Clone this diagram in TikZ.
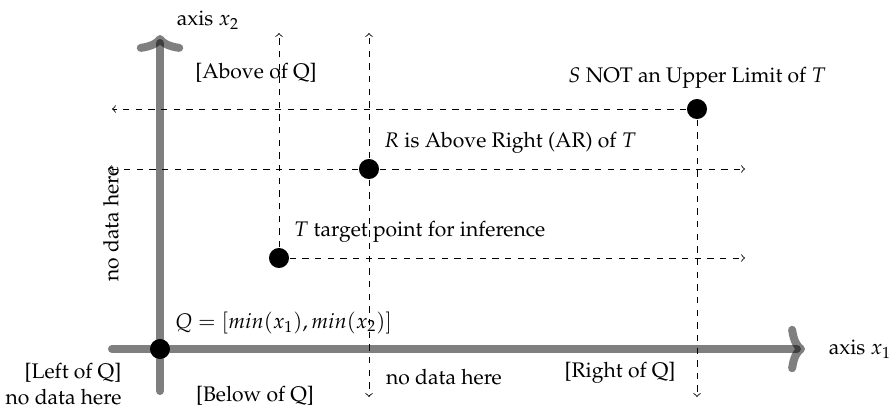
\documentclass[tikz,border=0pt]{standalone}
\usepackage[T1]{fontenc}
\usepackage{mathpazo}
\usepackage{tikz}
\usetikzlibrary{arrows,arrows.meta,positioning}

\begin{document}
\begin{tikzpicture}[x=0.474pt,y=-0.474pt,>=to,semithick]
  \tikzstyle{axisline}=[-{Computer Modern Rightarrow[length=8pt,width=22pt]},line width=3.8pt,draw=black,draw opacity=0.5,line cap=round]
  \tikzstyle{dot}=[circle,fill=black,inner sep=0pt,minimum size=9.5pt]
  \tikzstyle{guide}=[->,dashed,thin]

  \useasboundingbox (0,0) rectangle (893,407);

  % points
  \node[dot] (Q) at (160,349) {};
  \node[dot] (T) at (279,258) {};
  \node[dot] (R) at (369,169) {};
  \node[dot] (S) at (697,109) {};

  % free ends
  \coordinate (xstart) at (112,349);
  \coordinate (xend)   at (805,349);
  \coordinate (ystart) at (160,391);
  \coordinate (yend)   at (160,35);
  \coordinate (sleft)  at (112,109);
  \coordinate (sdown)  at (697,397);
  \coordinate (rleft)  at (108,169);
  \coordinate (rright) at (745,169);
  \coordinate (rup)    at (369,33);
  \coordinate (rdown)  at (369,397);
  \coordinate (tup)    at (279,33);
  \coordinate (tright) at (745,258);

  % axes
  \draw[axisline] (Q) -- (xend);
  \draw[axisline,-] (Q) -- (xstart);
  \draw[axisline] (Q) -- (yend);
  \draw[axisline,-] (Q) -- (ystart);

  % guides
  \draw[guide] (S) -- (sleft);
  \draw[guide] (S) -- (sdown);
  \draw[guide] (R) -- (rleft);
  \draw[guide] (R) -- (rright);
  \draw[guide] (R) -- (rup);
  \draw[guide] (R) -- (rdown);
  \draw[guide] (T) -- (tup);
  \draw[guide] (T) -- (tright);

  \node[above right=0pt of Q] (Qlabel) {$Q=[min(x_1),min(x_2)]$};
  \node[above right=0pt of T] (Tlabel) {$T$ target point for inference};
  \node[above right=0pt of R] (Rlabel) {$R$ is Above Right (AR) of $T$};
  \node[above=1pt of S]       (Slabel) {$S$ NOT an Upper Limit of $T$};

  \node (xaxis) at (860,349) {axis $x_1$};
  \node (yaxis) at (208,20)  {axis $x_2$};

  \node (above) at (256,73)  {[Above of Q]};
  \node (below) at (255,396) {[Below of Q]};
  \node (right) at (620,373) {[Right of Q]};
  \node[anchor=east,align=right] (left) at (129,384) {[Left of Q]\\no data here};
  \node (nodata1) at (444,377) {no data here};
  \node[rotate=90] (nodata2) at (111,224) {no data here};
\end{tikzpicture}
\end{document}
